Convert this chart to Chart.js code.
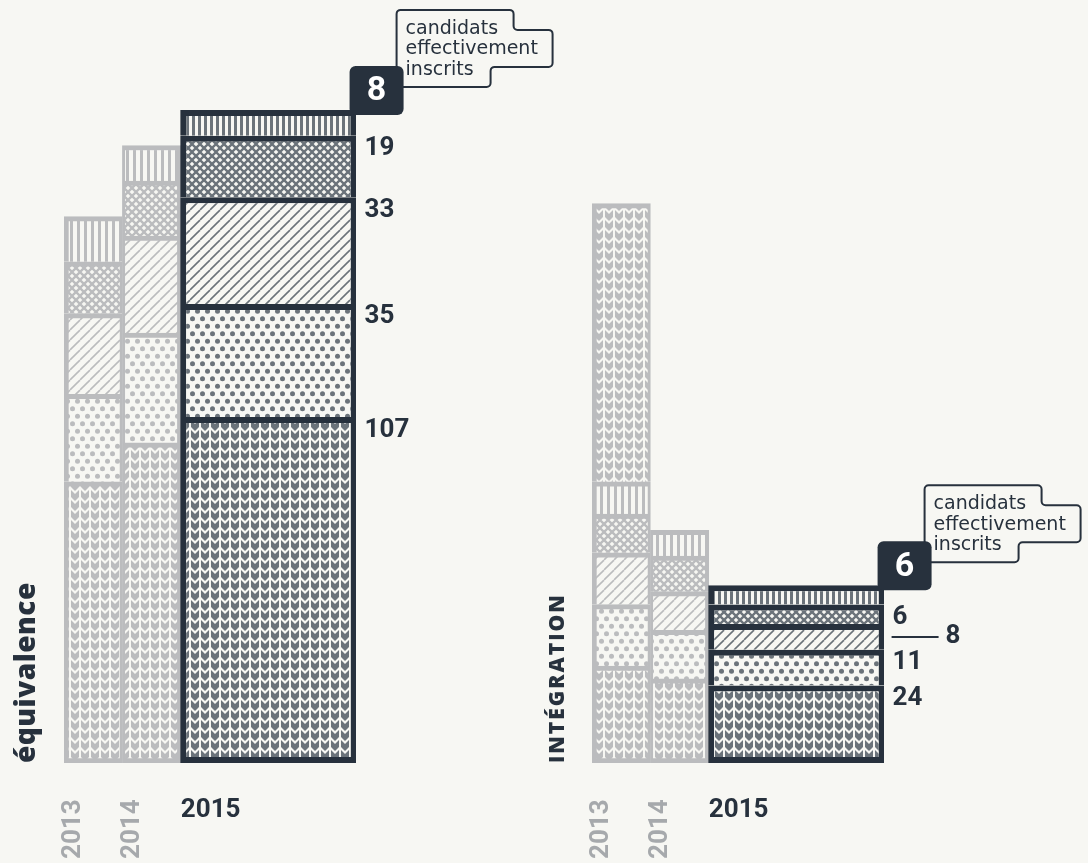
<!DOCTYPE html>
<html lang="fr">
<head>
<meta charset="utf-8">
<title>Candidats équivalence / intégration</title>
<script src="https://cdn.jsdelivr.net/npm/chart.js@4.4.1/dist/chart.umd.min.js"></script>
<style>
  html, body { margin: 0; padding: 0; background: #f7f7f3; }
  #wrap { position: relative; width: 1088px; height: 863px; overflow: hidden; }
  canvas { position: absolute; top: 0; }
</style>
</head>
<body>
<div id="wrap">
  <canvas id="eq" width="620" height="863" style="left:0"></canvas>
  <canvas id="in" width="544" height="863" style="left:544px"></canvas>
</div>
<script>
// années ; la barre 2015 occupe les trois dernières cases
var years = ['2013', '2014', '2015'];
var slots = years.concat(['', '']);

// équivalence, du bas vers le haut, valeurs [2013, 2014, 2015]
var eqChevron = [87, 99, 107];
var eqDots = [27, 34, 35];
var eqDiag = [25, 30, 33];
var eqCross = [16, 17, 19];
var eqInscrits = [14, 11, 8];

// intégration
var inChevron = [30, 26, 24];
var inDots = [19, 15, 11];
var inDiag = [16, 12, 8];
var inCross = [12, 11, 6];
var inInscrits = [10, 8, 6];
var inChevronTop = [86, null, null]; // seulement en 2013

var BG = '#f7f7f3', DARK = '#27313d', DARK_FG = '#6b737a';
var PALE = '#bbbcbe', PALE_FG = '#bbbcbe', YEAR_GREY = '#a6a9ac';
var NUM_FONT = 'bold 26px Roboto';

var helper = document.getElementById('eq').getContext('2d');

function makePattern(kind, fg, fine) {
  var size = {chevron: [10, 10], dots: [10, 15], diag: [10, 10], cross: [8, 8], stripes: [fine ? 6 : 7, 4]}[kind];
  var w = size[0], h = size[1];
  var c = document.createElement('canvas');
  c.width = w; c.height = h;
  var g = c.getContext('2d');
  g.fillStyle = BG; g.fillRect(0, 0, w, h);
  g.fillStyle = fg; g.strokeStyle = fg;
  if (kind === 'chevron') {
    [0, -10].forEach(function (o) {
      g.beginPath();
      g.moveTo(1, o); g.lineTo(5, o + 4); g.lineTo(9, o); g.lineTo(9, o + 7); g.lineTo(5, o + 11); g.lineTo(1, o + 7);
      g.closePath(); g.fill();
    });
  } else if (kind === 'dots') {
    [[2.5, 3.75], [7.5, 11.25]].forEach(function (p) {
      g.beginPath(); g.arc(p[0], p[1], 2.5, 0, Math.PI * 2); g.fill();
    });
  } else if (kind === 'diag' || kind === 'cross') {
    g.lineWidth = kind === 'cross' ? 2.3 : 1.6;
    for (var k = -1; k <= 1; k++) {
      g.beginPath(); g.moveTo(k * w, h); g.lineTo(k * w + w, 0); g.stroke();
      if (kind === 'cross') {
        g.beginPath(); g.moveTo(k * w, 0); g.lineTo(k * w + w, h); g.stroke();
      }
    }
  } else {
    g.fillRect(0, 0, 3, h);
  }
  return helper.createPattern(c, 'repeat');
}

function makeDatasets(layers) {
  var fresh = [], old = [];
  layers.forEach(function (layer, i) {
    var v = layer.values;
    var bottom = i === 0;
    if (v[2] != null) {
      fresh.push({
        data: [null, null, null, v[2], null],
        backgroundColor: makePattern(layer.kind, DARK_FG, true),
        borderColor: DARK,
        borderWidth: {top: 6, left: 6, right: 6, bottom: bottom ? 6 : 0},
        borderSkipped: bottom ? false : 'start',
        barPercentage: 3.02,
        categoryPercentage: 1,
        recent: true,
        role: layer.role || 'value'
      });
    }
    old.push({
      data: [v[0], v[1], null, null, null],
      backgroundColor: makePattern(layer.kind, PALE_FG, false),
      borderColor: PALE,
      borderWidth: function (c) {
        var b = bottom ? 5 : 0;
        return c.dataIndex === 0 ? {top: 5, left: 5, right: 3, bottom: b} : {top: 5, left: 3, right: 4, bottom: b};
      },
      borderSkipped: bottom ? false : 'start',
      barPercentage: 1,
      categoryPercentage: 1
    });
  });
  // 2015 en premier pour être dessiné par-dessus
  return fresh.concat(old);
}

function roundRect(ctx, x, y, w, h, r) {
  ctx.beginPath();
  ctx.moveTo(x + r, y);
  ctx.arcTo(x + w, y, x + w, y + h, r);
  ctx.arcTo(x + w, y + h, x, y + h, r);
  ctx.arcTo(x, y + h, x, y, r);
  ctx.arcTo(x, y, x + w, y, r);
  ctx.closePath();
}

function callout(ctx, bx, by) {
  var L = bx + 47, T = by - 56, r = 4;
  var pts = [[L, T + 77], [L, T], [L + 117, T], [L + 117, T + 20], [L + 156, T + 20],
             [L + 156, T + 57], [L + 94, T + 57], [L + 94, T + 77]];
  ctx.beginPath();
  ctx.moveTo((pts[0][0] + pts[7][0]) / 2, pts[0][1]);
  for (var i = 0; i < pts.length; i++) {
    var p = pts[i], n = pts[(i + 1) % pts.length];
    ctx.arcTo(p[0], p[1], n[0], n[1], r);
  }
  ctx.closePath();
  ctx.fillStyle = BG; ctx.fill();
  ctx.lineWidth = 2; ctx.strokeStyle = DARK; ctx.stroke();
  ctx.fillStyle = DARK;
  ctx.font = '19px "DejaVu Sans"';
  ctx.textAlign = 'left'; ctx.textBaseline = 'middle';
  ['candidats', 'effectivement', 'inscrits'].forEach(function (t, k) {
    ctx.fillText(t, L + 9, T + 19 + k * 20.5);
  });
}

var decor = {
  id: 'decor',
  afterDatasetsDraw: function (chart, args, opts) {
    var ctx = chart.ctx, area = chart.chartArea, x = chart.scales.x;
    var slotW = x.getPixelForValue(1) - x.getPixelForValue(0);
    ctx.save();
    chart.data.datasets.forEach(function (ds, i) {
      if (!ds.recent) return;
      var el = chart.getDatasetMeta(i).data[3];
      var right = el.x + el.width / 2;
      ctx.fillStyle = DARK; ctx.strokeStyle = DARK;
      ctx.font = NUM_FONT; ctx.textAlign = 'left'; ctx.textBaseline = 'middle';
      if (ds.role === 'badge') {
        var bx = right - 7, by = el.y - 44;
        callout(ctx, bx, by);
        ctx.fillStyle = DARK;
        roundRect(ctx, bx, by, 54, 49, 6); ctx.fill();
        ctx.fillStyle = '#ffffff';
        ctx.font = 'bold 34px Roboto'; ctx.textAlign = 'center';
        ctx.fillText(String(ds.data[3]), bx + 27, by + 26);
      } else if (ds.role === 'leader') {
        var cy = (el.y + el.base) / 2;
        ctx.lineWidth = 2;
        ctx.beginPath(); ctx.moveTo(right + 7, cy); ctx.lineTo(right + 54, cy); ctx.stroke();
        ctx.fillText(String(ds.data[3]), right + 61, cy);
      } else {
        ctx.fillText(String(ds.data[3]), right + 8, el.y + 13);
      }
    });

    // années
    ctx.font = NUM_FONT; ctx.textBaseline = 'middle'; ctx.textAlign = 'left';
    for (var k = 0; k < 2; k++) {
      ctx.save();
      ctx.translate(x.getPixelForValue(k) - 19.5, 859);
      ctx.rotate(-Math.PI / 2);
      ctx.fillStyle = YEAR_GREY;
      ctx.fillText(years[k], 0, 0);
      ctx.restore();
    }
    ctx.fillStyle = DARK;
    ctx.fillText(years[2], x.getPixelForValue(2) - slotW / 2, 810);

    // titre du groupe
    ctx.save();
    ctx.translate(area.left - 37, area.bottom);
    ctx.rotate(-Math.PI / 2);
    ctx.font = (opts.caps ? 'small-caps 800 30px' : '800 28px') + ' "Open Sans"';
    ctx.letterSpacing = opts.caps ? '2px' : '0.5px';
    ctx.fillStyle = DARK; ctx.textAlign = 'left'; ctx.textBaseline = 'middle';
    ctx.fillText(opts.title, 0, 0);
    ctx.restore();
    ctx.restore();
  }
};

function draw(id, layers, padLeft, padRight, title, caps) {
  new Chart(document.getElementById(id), {
    type: 'bar',
    data: {labels: slots, datasets: makeDatasets(layers)},
    options: {
      responsive: false,
      animation: false,
      devicePixelRatio: 1,
      layout: {padding: {left: padLeft, right: padRight, top: 42, bottom: 100}},
      scales: {
        x: {stacked: true, display: false},
        y: {stacked: true, display: false, min: 0, max: 223}
      },
      plugins: {
        legend: {display: false},
        tooltip: {enabled: false},
        decor: {title: title, caps: caps}
      }
    },
    plugins: [decor]
  });
}

draw('eq', [
  {kind: 'chevron', values: eqChevron},
  {kind: 'dots', values: eqDots},
  {kind: 'diag', values: eqDiag},
  {kind: 'cross', values: eqCross},
  {kind: 'stripes', values: eqInscrits, role: 'badge'}
], 64, 264, 'équivalence', false);

draw('in', [
  {kind: 'chevron', values: inChevron},
  {kind: 'dots', values: inDots},
  {kind: 'diag', values: inDiag, role: 'leader'},
  {kind: 'cross', values: inCross},
  {kind: 'stripes', values: inInscrits, role: 'badge'},
  {kind: 'chevron', values: inChevronTop}
], 48, 204, 'intégration', true);
</script>
</body>
</html>
